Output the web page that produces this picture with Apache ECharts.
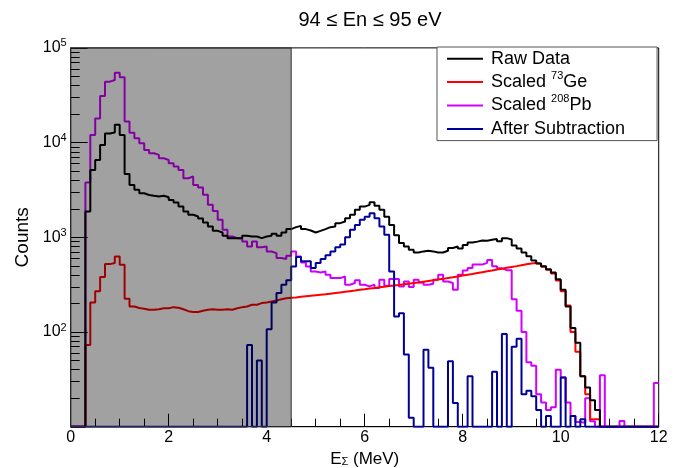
<!DOCTYPE html>
<html>
<head>
<meta charset="utf-8">
<script src="https://cdn.jsdelivr.net/npm/echarts@6/dist/echarts.min.js"></script>
<style>
html,body{margin:0;padding:0;background:#fff;}
#chart{width:678px;height:468px;}
</style>
</head>
<body>
<div id="chart"></div>
<script>
// ---- histogram binning (MeV) ----
const binStart = 0;
const binWidth = 0.1;

// ---- series values, one row per MeV (10 bins of 0.1 MeV) ----
const rawData = [
  0,0,0,1870,5150,6560,9450,12500,12800,15400,
  12000,4670,3570,3170,2920,2800,2740,2700,2750,2650,
  2480,2330,2110,1870,1730,1660,1580,1430,1300,1170,
  1125,1037,980,980,980,1037,1020,1020,980,1020,
  1037,1090,1037,1125,1220,1280,1320,1220,1180,1125,
  1170,1220,1280,1300,1410,1470,1590,1730,1950,2110,
  2200,2350,2150,1950,1650,1350,1050,870,800,740,
  690,710,720,710,690,690,720,770,800,760,
  830,880,900,925,920,940,960,910,980,950,
  820,760,690,630,570,530,495,460,425,360,
  280,186,110,77,34,26,19,15,0,0,
  0,0,0,0,0,0,0,0,0,0
];
const scaledGe = [
  0,0,0,73,205,269,380,521,535,628,
  513,224,186,179,176,172,172,174,178,178,
  183,180,174,166,163,163,168,172,174,172,
  172,174,172,178,183,186,194,194,202,205,
  210,215,222,227,230,232,235,238,241,244,
  247,250,254,258,262,266,270,274,279,283,
  288,292,297,301,306,310,314,319,324,329,
  334,340,346,352,358,364,371,378,386,394,
  402,410,419,428,437,446,456,466,476,486,
  496,508,520,530,535,525,490,455,415,350,
  270,190,100,62,34,22,12,12,0,0,
  0,0,0,0,0,0,0,0,0,0
];
const scaledPb = [
  0,0,0,3790,12000,18000,31100,44000,45800,54700,
  48900,16700,12700,11100,9840,8370,7720,7410,6830,6560,
  6050,5580,5150,4210,4380,3570,3350,2810,2200,1900,
  1530,1200,1020,980,980,904,800,904,787,800,
  709,680,603,590,640,710,628,543,492,436,
  426,436,402,371,371,386,315,329,351,315,
  303,316,291,357,308,362,362,303,342,298,
  357,334,316,324,357,402,342,329,279,402,
  445,473,515,515,538,575,495,470,450,450,
  222,168,100,48,44,22,18,15,16,40,
  33,18,13,11.2,11,20,11.4,0,35,0,
  0,0,11.5,0,0,0,0,0,0,29
];
const afterSub = [
  0,0,0,0,0,0,0,0,0,0,
  0,0,0,0,0,0,0,0,0,0,
  0,0,0,0,0,0,0,0,0,0,
  0,0,0,0,0,0,73,0,50,0,
  107,205,258,315,351,493,620,560,560,475,
  534,590,645,709,785,840,1000,1200,1350,1530,
  1650,1800,1590,1300,1062,435,146,158,58,12.4,
  0,0,65,42,0,0,0,49,17.8,0,
  0,34,0,0,0,0,38,0,95,0,
  70,85,22,24,21,15,0,13,0,0,
  33,0,13,0,12,0,0,0,0,0,
  0,0,0,0,0,0,0,0,0,0
];

// ---- axes / labels ----
const xMin = 0, xMax = 12, xInterval = 2;
const yMin = 10, yMax = 100000;
const yMinorTicks = [20,30,40,50,60,70,80,90,200,300,400,500,600,700,800,900,
  2000,3000,4000,5000,6000,7000,8000,9000,20000,30000,40000,50000,60000,70000,80000,90000];
const yLabelledExponents = [2,3,4,5];
const shadedRange = [0, 4.5];
const seriesNames = ['Raw Data','Scaled 73Ge','Scaled 208Pb','After Subtraction'];
const legendLabels = ['Raw Data','Scaled {sup|73}Ge','Scaled {sup|208}Pb','After Subtraction'];
const titleText = '94 \u2264 En \u2264 95 eV';
const xAxisTitle = 'E{sub|\u03a3} (MeV)';
const yAxisTitle = 'Counts';

const FONT = '"Liberation Sans", Arial, Helvetica, sans-serif';
const lg = Math.log10;

function steps(vals) {
  const pts = vals.map((v, i) => [+(binStart + i * binWidth).toFixed(3), v > 0 ? v : yMin]);
  const last = vals[vals.length - 1];
  pts.push([+(binStart + vals.length * binWidth).toFixed(3), last > 0 ? last : yMin]);
  return pts;
}

function histSeries(name, vals, color) {
  return {
    name: name, type: 'line', step: 'end', symbol: 'none', showSymbol: false,
    data: steps(vals), clip: true, animation: false, yAxisIndex: 0,
    lineStyle: {color: color, width: 2}, itemStyle: {color: color},
    emphasis: {disabled: true}
  };
}

const chart = echarts.init(document.getElementById('chart'), null, {renderer: 'canvas'});
chart.setOption({
  animation: false,
  backgroundColor: '#fff',
  textStyle: {fontFamily: FONT},
  title: {
    text: titleText, left: 365, top: 5, textAlign: 'center',
    textStyle: {fontFamily: FONT, fontSize: 20, fontWeight: 'normal', color: '#000'}
  },
  grid: {left: 70.7, right: 19.3, top: 47.9, bottom: 41.3, show: true,
    containLabel: false, outerBoundsMode: 'none',
    borderColor: '#000', borderWidth: 1, backgroundColor: 'transparent'},
  legend: {
    data: seriesNames, orient: 'vertical', left: 437, top: 47,
    padding: [0, 32, 0, 10], itemGap: 0, itemWidth: 36, itemHeight: 2,
    icon: 'rect',
    backgroundColor: '#fff', borderColor: '#555', borderWidth: 1,
    selectedMode: false,
    formatter: name => legendLabels[seriesNames.indexOf(name)],
    textStyle: {fontFamily: FONT, fontSize: 18, lineHeight: 23.4, color: '#000', padding: [0,0,0,3],
      rich: {sup: {fontFamily: FONT, fontSize: 11, lineHeight: 9, verticalAlign: 'top', color: '#000'}}}
  },
  xAxis: {
    type: 'value', min: xMin, max: xMax, interval: xInterval,
    name: xAxisTitle, nameLocation: 'middle', nameGap: 24,
    nameTextStyle: {fontFamily: FONT, fontSize: 17, color: '#000',
      rich: {sub: {fontFamily: FONT, fontSize: 11, color: '#000', verticalAlign: 'bottom', lineHeight: 9}}},
    axisLine: {show: true, lineStyle: {color: '#000', width: 1}},
    axisTick: {show: true, inside: true, length: 13, lineStyle: {color: '#000'}},
    minorTick: {show: true, splitNumber: 4, length: 8, lineStyle: {color: '#000'}},
    axisLabel: {fontFamily: FONT, fontSize: 16, color: '#000', margin: 3},
    splitLine: {show: false}
  },
  yAxis: [{
    type: 'log', logBase: 10, min: yMin, max: yMax,
    name: yAxisTitle, nameLocation: 'middle', nameGap: 38, nameRotate: 90,
    nameTextStyle: {fontFamily: FONT, fontSize: 19, color: '#000'},
    axisLine: {show: true, lineStyle: {color: '#000', width: 1}},
    axisTick: {show: true, inside: true, length: 17, lineStyle: {color: '#000'}},
    minorTick: {show: false},
    axisLabel: {fontFamily: FONT, fontSize: 16, color: '#000', margin: 4, lineHeight: 20,
      formatter: v => {
        const e = Math.round(lg(v));
        return yLabelledExponents.indexOf(e) >= 0 ? '10{sup|' + e + '}' : '';
      },
      rich: {sup: {fontFamily: FONT, fontSize: 11, lineHeight: 12, verticalAlign: 'top', color: '#000'}}},
    splitLine: {show: false}
  }, {
    // linear axis in log10 units, used only to place the 2..9 minor ticks of the log axis
    type: 'value', min: lg(yMin), max: lg(yMax), position: 'left', gridIndex: 0, show: true,
    axisLine: {show: false},
    axisLabel: {show: false, customValues: yMinorTicks.map(lg)},
    axisTick: {show: true, inside: true, length: 9, customValues: yMinorTicks.map(lg),
      lineStyle: {color: '#000'}},
    splitLine: {show: false}
  }],
  series: [
    histSeries(seriesNames[2], scaledPb, '#d000ff'),
    histSeries(seriesNames[1], scaledGe, '#ff0000'),
    histSeries(seriesNames[0], rawData, '#000000'),
    histSeries(seriesNames[3], afterSub, '#000099'),
    {
      name: 'shade', type: 'line', data: [], z: 10, silent: true, yAxisIndex: 1,
      markArea: {
        silent: true, z: 10,
        itemStyle: {color: 'rgba(0,0,0,0.37)', borderColor: '#333', borderWidth: 1},
        data: [[{xAxis: shadedRange[0], yAxis: lg(yMax)}, {xAxis: shadedRange[1], yAxis: lg(yMin)}]]
      }
    }
  ]
});
</script>
</body>
</html>
